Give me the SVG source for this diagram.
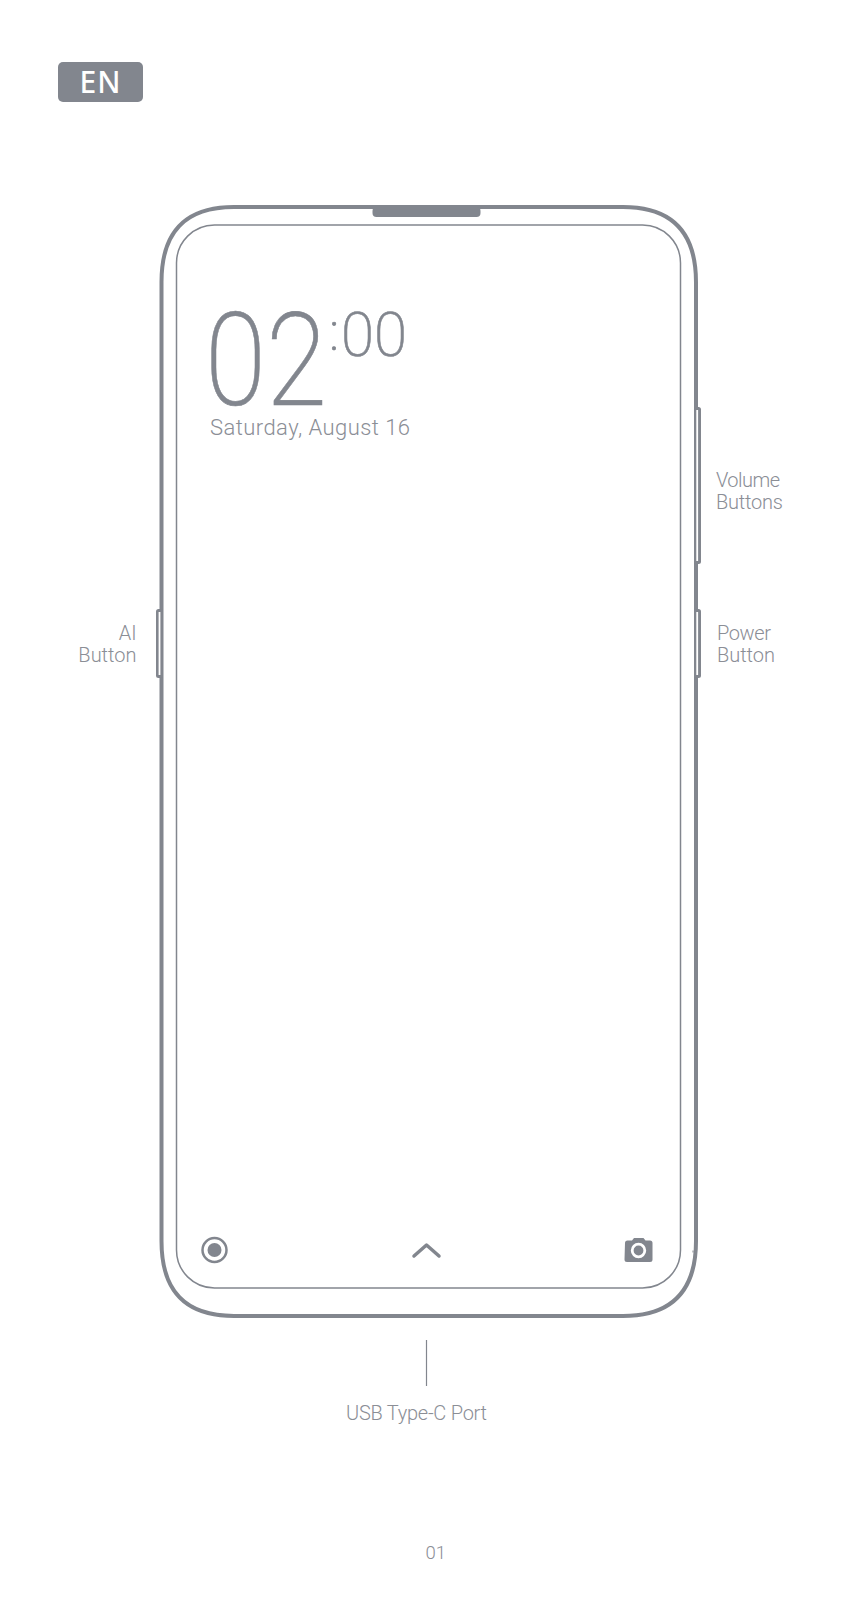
<svg xmlns="http://www.w3.org/2000/svg" width="867" height="1600" viewBox="0 0 867 1600">
<style>
text{font-family:"Roboto","Liberation Sans",sans-serif;font-weight:300;fill:#8b8e96}
.l{font-size:20px}
.clock{fill:#82868e;stroke:#82868e;stroke-width:.6px;font-weight:200}
.i{fill:#82868e}
.slot{fill:#fff}
</style>
<rect width="867" height="1600" fill="#fff"/>
<g id="lang-badge"><rect x="58" y="62" width="85" height="40" rx="5" fill="#82868e"/>
<text x="100.500" y="93" font-size="30" text-anchor="middle" style="fill:#fff;font-weight:500;font-family:'Noto Sans',sans-serif" letter-spacing="1">EN</text></g>
<g id="phone-body"><path d="M234 207H623C672 207 696 232 696 282V1241C696 1291 672 1316 623 1316H234C185 1316 161.500 1291 161.500 1241V282C161.500 232 185 207 234 207Z" fill="#fff" stroke="#82868e" stroke-width="4"/>
<rect x="372.500" y="207" width="108" height="10" rx="4" class="i"/>
<rect x="692.500" y="1250.500" width="1" height="2" class="i"/></g>
<g id="side-buttons">
<rect x="694" y="407" width="7" height="157" rx="2.500" class="i"/><rect x="696.300" y="410" width="1.800" height="151" class="slot"/>
<rect x="694" y="609" width="7" height="69" rx="2.500" class="i"/><rect x="696.300" y="612" width="1.800" height="63" class="slot"/>
<rect x="156" y="609" width="7" height="69" rx="2.500" class="i"/><rect x="158.600" y="612" width="1.800" height="63" class="slot"/>
</g>
<g id="screen"><rect x="176.500" y="225" width="504" height="1063" rx="38" fill="#fff" stroke="#82868e" stroke-width="1.500"/></g>
<g id="clock">
<text class="clock"><tspan x="205" y="405" font-size="130" textLength="122" lengthAdjust="spacingAndGlyphs">02</tspan><tspan x="329" y="350" font-size="54">:</tspan><tspan x="341" y="356" font-size="62" textLength="66" lengthAdjust="spacingAndGlyphs">00</tspan></text>
<text x="210" y="434.500" style="font-size:22px" textLength="200">Saturday, August 16</text>
</g>
<g id="nav-icons">
<g id="icon-record"><circle cx="214.500" cy="1250" r="12" fill="none" stroke="#82868e" stroke-width="2.500"/><circle cx="214.500" cy="1250" r="7" class="i"/></g>
<g id="icon-up"><path d="M414 1256L426.500 1245L439 1256" fill="none" stroke="#82868e" stroke-width="3.500" stroke-linecap="round" stroke-linejoin="round"/></g>
<g id="icon-camera"><path d="M625 1243a2.500 2.500 0 0 1 2.500-2.500h4.500l2-2.500h9.500l2 2.500h4.500a2.500 2.500 0 0 1 2.500 2.500v16.500a2.500 2.500 0 0 1-2.500 2.500h-23a2.500 2.500 0 0 1-2.500-2.500z" class="i"/><circle cx="638.500" cy="1250.500" r="6.300" fill="none" stroke="#fff" stroke-width="2.800"/></g>
</g>
<g id="connectors"><line x1="426.500" y1="1340" x2="426.500" y2="1386" stroke="#82868e" stroke-width="1.200"/></g>
<g id="labels">
<text class="l" x="716" y="487" textLength="64">Volume</text>
<text class="l" x="716" y="509" textLength="67">Buttons</text>
<text class="l" x="717" y="640" textLength="54">Power</text>
<text class="l" x="717" y="662" textLength="58">Button</text>
<text class="l" x="136.500" y="640" text-anchor="end">AI</text>
<text class="l" x="136.500" y="662" text-anchor="end">Button</text>
<text class="l" x="346" y="1420" textLength="141">USB Type-C Port</text>
<text x="425.500" y="1558.500" style="font-size:18.500px">01</text>
</g>
</svg>
